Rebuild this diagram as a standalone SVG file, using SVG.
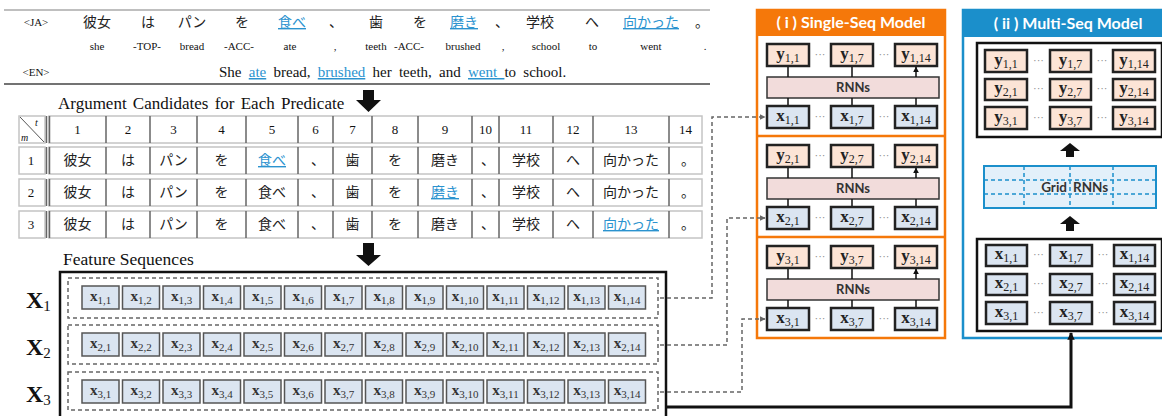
<svg xmlns="http://www.w3.org/2000/svg" width="1162" height="416" viewBox="0 0 1162 416">
<style>
.ser{font-family:"Liberation Serif",serif;fill:#111}
.cjk{font-family:"Noto Sans CJK JP",sans-serif;fill:#222}
.sans{font-family:Lato,"Open Sans",sans-serif;font-weight:bold}
.blue{fill:#2b93cf;text-decoration:underline}
.hl{stroke:#c4c4c4;stroke-width:1.5;fill:#fff}
.vl{stroke:#666;stroke-width:1.5}
.xc{fill:#dbe5f1;stroke:#555;stroke-width:1.5}
.xm{fill:#dbe5f1;stroke:#222;stroke-width:2.5}
.ym{fill:#fce4d6;stroke:#222;stroke-width:2.5}
.ct{font-family:"Liberation Serif",serif;fill:#333;text-anchor:middle;font-size:15px;font-weight:bold}
.ct tspan{font-size:11px;font-weight:normal}
.mt{font-family:"Liberation Serif",serif;fill:#222;text-anchor:middle;font-size:17px;font-weight:bold}
.mt tspan{font-size:12px;font-weight:normal}
.dots{font-family:"Liberation Serif",serif;fill:#888;font-size:11px;text-anchor:middle}
.dash{fill:none;stroke:#666;stroke-width:1.5;stroke-dasharray:4 3}
.dbox{fill:none;stroke:#666;stroke-width:1.5;stroke-dasharray:4 3}
.c{text-anchor:middle}
</style>
<defs>
<marker id="ag" viewBox="0 0 10 10" refX="9" refY="5" markerWidth="4" markerHeight="4" orient="auto"><path d="M0,0L10,5L0,10z" fill="#666"/></marker>
<marker id="ak" viewBox="0 0 10 10" refX="9" refY="5" markerWidth="4" markerHeight="4" orient="auto"><path d="M0,0L10,5L0,10z" fill="#111"/></marker>
<marker id="ab" viewBox="0 0 10 10" refX="9" refY="5" markerWidth="2.5" markerHeight="2.5" orient="auto"><path d="M0,0L10,5L0,10z" fill="#111"/></marker>
</defs>

<g id="sentence">
<line x1="4" y1="10" x2="710" y2="10" stroke="#aaa" stroke-width="1.5"/>
<line x1="4" y1="84" x2="710" y2="84" stroke="#444" stroke-width="1.5"/>
<text class="ser c" x="36" y="26" font-size="11">&lt;JA&gt;</text>
<g class="cjk c" font-size="14">
<text class="cjk c" x="97" y="27">彼女</text>
<text class="cjk c" x="148" y="27">は</text>
<text class="cjk c" x="192" y="27">パン</text>
<text class="cjk c" x="242" y="27">を</text>
<text class="cjk c blue" x="292" y="27">食べ</text>
<text class="cjk c" x="336" y="27">、</text>
<text class="cjk c" x="376" y="27">歯</text>
<text class="cjk c" x="420" y="27">を</text>
<text class="cjk c blue" x="464" y="27">磨き</text>
<text class="cjk c" x="502" y="27">、</text>
<text class="cjk c" x="540" y="27">学校</text>
<text class="cjk c" x="592" y="27">へ</text>
<text class="cjk c blue" x="651" y="27">向かった</text>
<text class="cjk c" x="702" y="27">。</text>
</g>
<g class="ser" font-size="11">
<text class="ser c" x="97" y="50">she</text>
<text class="ser c" x="147" y="50">-TOP-</text>
<text class="ser c" x="192" y="50">bread</text>
<text class="ser c" x="239" y="50">-ACC-</text>
<text class="ser c" x="290" y="50">ate</text>
<text class="ser c" x="335" y="50">,</text>
<text class="ser c" x="376" y="50">teeth</text>
<text class="ser c" x="409" y="50">-ACC-</text>
<text class="ser c" x="463" y="50">brushed</text>
<text class="ser c" x="503" y="50">,</text>
<text class="ser c" x="546" y="50">school</text>
<text class="ser c" x="593" y="50">to</text>
<text class="ser c" x="651" y="50">went</text>
<text class="ser c" x="705" y="50">.</text>
</g>
<text class="ser c" x="36" y="76" font-size="11">&lt;EN&gt;</text>
<text class="ser" x="219" y="77" font-size="15" word-spacing="3.5">She <tspan class="blue">ate</tspan> bread, <tspan class="blue">brushed</tspan> her teeth, and <tspan class="blue">went </tspan>to school.</text>
</g>

<g id="arg-title">
<text class="ser" x="58" y="109" font-size="17" word-spacing="2">Argument Candidates for Each Predicate</text>
<polygon points="363,90 374,90 374,100 381,100 368.5,112 356,100 363,100" fill="#111"/>
</g>

<g id="table">
<rect class="hl" x="19" y="116" width="26" height="27"/>
<line x1="20" y1="117" x2="44" y2="142" stroke="#555" stroke-width="1"/>
<text class="ser" x="35" y="126" font-size="10" font-style="italic">t</text>
<text class="ser" x="21" y="141" font-size="10" font-style="italic">m</text>
<rect class="hl" x="49" y="116" width="653" height="27"/>
<rect class="hl" x="19" y="147" width="26" height="27"/>
<rect class="hl" x="49" y="147" width="653" height="27"/>
<rect class="hl" x="19" y="179" width="26" height="27"/>
<rect class="hl" x="49" y="179" width="653" height="27"/>
<rect class="hl" x="19" y="211" width="26" height="27"/>
<rect class="hl" x="49" y="211" width="653" height="27"/>
<g class="vl">
<line x1="46.5" y1="116" x2="46.5" y2="143"/><line x1="49.5" y1="116" x2="49.5" y2="143"/>
<line x1="46.5" y1="147" x2="46.5" y2="174"/><line x1="49.5" y1="147" x2="49.5" y2="174"/>
<line x1="46.5" y1="179" x2="46.5" y2="206"/><line x1="49.5" y1="179" x2="49.5" y2="206"/>
<line x1="46.5" y1="211" x2="46.5" y2="238"/><line x1="49.5" y1="211" x2="49.5" y2="238"/>
</g>
<path class="vl" d="M106,116V143M150,116V143M197,116V143M246,116V143M298,116V143M333,116V143M372,116V143M418,116V143M472,116V143M499,116V143M553,116V143M593,116V143M669,116V143
M106,147V174M150,147V174M197,147V174M246,147V174M298,147V174M333,147V174M372,147V174M418,147V174M472,147V174M499,147V174M553,147V174M593,147V174M669,147V174
M106,179V206M150,179V206M197,179V206M246,179V206M298,179V206M333,179V206M372,179V206M418,179V206M472,179V206M499,179V206M553,179V206M593,179V206M669,179V206
M106,211V238M150,211V238M197,211V238M246,211V238M298,211V238M333,211V238M372,211V238M418,211V238M472,211V238M499,211V238M553,211V238M593,211V238M669,211V238" fill="none"/>
<g font-size="13">
<text class="ser c" x="77.5" y="134">1</text><text class="ser c" x="128" y="134">2</text><text class="ser c" x="173.5" y="134">3</text><text class="ser c" x="221.5" y="134">4</text><text class="ser c" x="272" y="134">5</text><text class="ser c" x="315.5" y="134">6</text><text class="ser c" x="352.5" y="134">7</text><text class="ser c" x="395" y="134">8</text><text class="ser c" x="445" y="134">9</text><text class="ser c" x="485.5" y="134">10</text><text class="ser c" x="526" y="134">11</text><text class="ser c" x="573" y="134">12</text><text class="ser c" x="631" y="134">13</text><text class="ser c" x="685.5" y="134">14</text>
<text class="ser c" x="31" y="165">1</text><text class="ser c" x="31" y="197">2</text><text class="ser c" x="31" y="229">3</text>
</g>
<g font-size="14">
<text class="cjk c" x="77.5" y="165">彼女</text><text class="cjk c" x="128" y="165">は</text><text class="cjk c" x="173.5" y="165">パン</text><text class="cjk c" x="221.5" y="165">を</text><text class="cjk c blue" x="272" y="165">食べ</text><text class="cjk c" x="318" y="165">、</text><text class="cjk c" x="352.5" y="165">歯</text><text class="cjk c" x="395" y="165">を</text><text class="cjk c" x="445" y="165">磨き</text><text class="cjk c" x="488" y="165">、</text><text class="cjk c" x="526" y="165">学校</text><text class="cjk c" x="573" y="165">へ</text><text class="cjk c" x="631" y="165">向かった</text><text class="cjk c" x="688" y="165">。</text>
<text class="cjk c" x="77.5" y="197">彼女</text><text class="cjk c" x="128" y="197">は</text><text class="cjk c" x="173.5" y="197">パン</text><text class="cjk c" x="221.5" y="197">を</text><text class="cjk c" x="272" y="197">食べ</text><text class="cjk c" x="318" y="197">、</text><text class="cjk c" x="352.5" y="197">歯</text><text class="cjk c" x="395" y="197">を</text><text class="cjk c blue" x="445" y="197">磨き</text><text class="cjk c" x="488" y="197">、</text><text class="cjk c" x="526" y="197">学校</text><text class="cjk c" x="573" y="197">へ</text><text class="cjk c" x="631" y="197">向かった</text><text class="cjk c" x="688" y="197">。</text>
<text class="cjk c" x="77.5" y="229">彼女</text><text class="cjk c" x="128" y="229">は</text><text class="cjk c" x="173.5" y="229">パン</text><text class="cjk c" x="221.5" y="229">を</text><text class="cjk c" x="272" y="229">食べ</text><text class="cjk c" x="318" y="229">、</text><text class="cjk c" x="352.5" y="229">歯</text><text class="cjk c" x="395" y="229">を</text><text class="cjk c" x="445" y="229">磨き</text><text class="cjk c" x="488" y="229">、</text><text class="cjk c" x="526" y="229">学校</text><text class="cjk c" x="573" y="229">へ</text><text class="cjk c blue" x="631" y="229">向かった</text><text class="cjk c" x="688" y="229">。</text>
</g>
</g>

<g id="feature-sequences">
<text class="ser" x="63" y="265" font-size="17.5">Feature Sequences</text>
<polygon points="363,243 374,243 374,255 381,255 368.5,266 356,255 363,255" fill="#111"/>
<rect x="60" y="272" width="606" height="160" fill="none" stroke="#111" stroke-width="2.5"/>
<text class="ser" x="26" y="308" font-size="24" font-weight="bold">X<tspan font-size="15" font-weight="normal" dy="3">1</tspan></text>
<text class="ser" x="26" y="355" font-size="24" font-weight="bold">X<tspan font-size="15" font-weight="normal" dy="3">2</tspan></text>
<text class="ser" x="26" y="402" font-size="24" font-weight="bold">X<tspan font-size="15" font-weight="normal" dy="3">3</tspan></text>
</g>

<g id="X1">
<rect class="dbox" x="68" y="278" width="590" height="40"/>
<g>
<rect class="xc" x="82" y="286" width="37" height="23"/><rect class="xc" x="122.5" y="286" width="37" height="23"/><rect class="xc" x="163" y="286" width="37" height="23"/><rect class="xc" x="203.5" y="286" width="37" height="23"/><rect class="xc" x="244" y="286" width="37" height="23"/><rect class="xc" x="284.5" y="286" width="37" height="23"/><rect class="xc" x="325" y="286" width="37" height="23"/><rect class="xc" x="365.5" y="286" width="37" height="23"/><rect class="xc" x="406" y="286" width="37" height="23"/><rect class="xc" x="446.5" y="286" width="37" height="23"/><rect class="xc" x="487" y="286" width="37" height="23"/><rect class="xc" x="527.5" y="286" width="37" height="23"/><rect class="xc" x="568" y="286" width="37" height="23"/><rect class="xc" x="608.5" y="286" width="37" height="23"/>
</g>
<text class="ct" x="100.5" y="301">x<tspan dy="3">1,1</tspan></text><text class="ct" x="141" y="301">x<tspan dy="3">1,2</tspan></text><text class="ct" x="181.5" y="301">x<tspan dy="3">1,3</tspan></text><text class="ct" x="222" y="301">x<tspan dy="3">1,4</tspan></text><text class="ct" x="262.5" y="301">x<tspan dy="3">1,5</tspan></text><text class="ct" x="303" y="301">x<tspan dy="3">1,6</tspan></text><text class="ct" x="343.5" y="301">x<tspan dy="3">1,7</tspan></text><text class="ct" x="384" y="301">x<tspan dy="3">1,8</tspan></text><text class="ct" x="424.5" y="301">x<tspan dy="3">1,9</tspan></text><text class="ct" x="465" y="301">x<tspan dy="3">1,10</tspan></text><text class="ct" x="505.5" y="301">x<tspan dy="3">1,11</tspan></text><text class="ct" x="546" y="301">x<tspan dy="3">1,12</tspan></text><text class="ct" x="586.5" y="301">x<tspan dy="3">1,13</tspan></text><text class="ct" x="627" y="301">x<tspan dy="3">1,14</tspan></text>
</g>

<g id="X2">
<rect class="dbox" x="68" y="325" width="590" height="39"/>
<g>
<rect class="xc" x="82" y="333" width="37" height="23"/><rect class="xc" x="122.5" y="333" width="37" height="23"/><rect class="xc" x="163" y="333" width="37" height="23"/><rect class="xc" x="203.5" y="333" width="37" height="23"/><rect class="xc" x="244" y="333" width="37" height="23"/><rect class="xc" x="284.5" y="333" width="37" height="23"/><rect class="xc" x="325" y="333" width="37" height="23"/><rect class="xc" x="365.5" y="333" width="37" height="23"/><rect class="xc" x="406" y="333" width="37" height="23"/><rect class="xc" x="446.5" y="333" width="37" height="23"/><rect class="xc" x="487" y="333" width="37" height="23"/><rect class="xc" x="527.5" y="333" width="37" height="23"/><rect class="xc" x="568" y="333" width="37" height="23"/><rect class="xc" x="608.5" y="333" width="37" height="23"/>
</g>
<text class="ct" x="100.5" y="348">x<tspan dy="3">2,1</tspan></text><text class="ct" x="141" y="348">x<tspan dy="3">2,2</tspan></text><text class="ct" x="181.5" y="348">x<tspan dy="3">2,3</tspan></text><text class="ct" x="222" y="348">x<tspan dy="3">2,4</tspan></text><text class="ct" x="262.5" y="348">x<tspan dy="3">2,5</tspan></text><text class="ct" x="303" y="348">x<tspan dy="3">2,6</tspan></text><text class="ct" x="343.5" y="348">x<tspan dy="3">2,7</tspan></text><text class="ct" x="384" y="348">x<tspan dy="3">2,8</tspan></text><text class="ct" x="424.5" y="348">x<tspan dy="3">2,9</tspan></text><text class="ct" x="465" y="348">x<tspan dy="3">2,10</tspan></text><text class="ct" x="505.5" y="348">x<tspan dy="3">2,11</tspan></text><text class="ct" x="546" y="348">x<tspan dy="3">2,12</tspan></text><text class="ct" x="586.5" y="348">x<tspan dy="3">2,13</tspan></text><text class="ct" x="627" y="348">x<tspan dy="3">2,14</tspan></text>
</g>

<g id="X3">
<rect class="dbox" x="68" y="372" width="590" height="38"/>
<g>
<rect class="xc" x="82" y="380" width="37" height="23"/><rect class="xc" x="122.5" y="380" width="37" height="23"/><rect class="xc" x="163" y="380" width="37" height="23"/><rect class="xc" x="203.5" y="380" width="37" height="23"/><rect class="xc" x="244" y="380" width="37" height="23"/><rect class="xc" x="284.5" y="380" width="37" height="23"/><rect class="xc" x="325" y="380" width="37" height="23"/><rect class="xc" x="365.5" y="380" width="37" height="23"/><rect class="xc" x="406" y="380" width="37" height="23"/><rect class="xc" x="446.5" y="380" width="37" height="23"/><rect class="xc" x="487" y="380" width="37" height="23"/><rect class="xc" x="527.5" y="380" width="37" height="23"/><rect class="xc" x="568" y="380" width="37" height="23"/><rect class="xc" x="608.5" y="380" width="37" height="23"/>
</g>
<text class="ct" x="100.5" y="395">x<tspan dy="3">3,1</tspan></text><text class="ct" x="141" y="395">x<tspan dy="3">3,2</tspan></text><text class="ct" x="181.5" y="395">x<tspan dy="3">3,3</tspan></text><text class="ct" x="222" y="395">x<tspan dy="3">3,4</tspan></text><text class="ct" x="262.5" y="395">x<tspan dy="3">3,5</tspan></text><text class="ct" x="303" y="395">x<tspan dy="3">3,6</tspan></text><text class="ct" x="343.5" y="395">x<tspan dy="3">3,7</tspan></text><text class="ct" x="384" y="395">x<tspan dy="3">3,8</tspan></text><text class="ct" x="424.5" y="395">x<tspan dy="3">3,9</tspan></text><text class="ct" x="465" y="395">x<tspan dy="3">3,10</tspan></text><text class="ct" x="505.5" y="395">x<tspan dy="3">3,11</tspan></text><text class="ct" x="546" y="395">x<tspan dy="3">3,12</tspan></text><text class="ct" x="586.5" y="395">x<tspan dy="3">3,13</tspan></text><text class="ct" x="627" y="395">x<tspan dy="3">3,14</tspan></text>
</g>

<g id="single-seq-model">
<rect x="757" y="10" width="188" height="328" fill="#fff" stroke="#f5780a" stroke-width="2.5"/>
<rect x="757" y="10" width="188" height="26" fill="#f5780a"/>
<text class="sans c" x="851" y="28" font-size="16" fill="#fff">( i ) Single-Seq Model</text>
<line x1="757" y1="136" x2="945" y2="136" stroke="#f5780a" stroke-width="2.5"/>
<line x1="757" y1="237" x2="945" y2="237" stroke="#f5780a" stroke-width="2.5"/>
<g id="ss1">
<rect class="ym" x="767" y="44" width="42" height="22"/><rect class="ym" x="831" y="44" width="42" height="22"/><rect class="ym" x="895" y="44" width="42" height="22"/>
<text class="mt" x="788" y="59">y<tspan dy="3">1,1</tspan></text><text class="mt" x="852" y="59">y<tspan dy="3">1,7</tspan></text><text class="mt" x="916" y="59">y<tspan dy="3">1,14</tspan></text>
<text class="dots" x="820" y="58">···</text><text class="dots" x="884" y="58">···</text>
<rect x="767" y="77" width="172" height="21" fill="#f2dcdb" stroke="#333" stroke-width="1.5"/>
<text class="sans c" x="853" y="92" font-size="13" fill="#333">RNNs</text>
<path d="M788,106V98M852,106V98M916,106V98" stroke="#111" stroke-width="1.5"/>
<path d="M788,77V67M852,77V67M916,77V67" stroke="#111" stroke-width="1.5" marker-end="url(#ak)"/>
<rect class="xm" x="767" y="106" width="42" height="22"/><rect class="xm" x="831" y="106" width="42" height="22" stroke-width="3"/><rect class="xm" x="895" y="106" width="42" height="22"/>
<text class="mt" x="788" y="121">x<tspan dy="3">1,1</tspan></text><text class="mt" x="852" y="121">x<tspan dy="3">1,7</tspan></text><text class="mt" x="916" y="121">x<tspan dy="3">1,14</tspan></text>
<text class="dots" x="820" y="120">···</text><text class="dots" x="884" y="120">···</text>
</g>
<g id="ss2">
<rect class="ym" x="767" y="145" width="42" height="22"/><rect class="ym" x="831" y="145" width="42" height="22"/><rect class="ym" x="895" y="145" width="42" height="22"/>
<text class="mt" x="788" y="160">y<tspan dy="3">2,1</tspan></text><text class="mt" x="852" y="160">y<tspan dy="3">2,7</tspan></text><text class="mt" x="916" y="160">y<tspan dy="3">2,14</tspan></text>
<text class="dots" x="820" y="159">···</text><text class="dots" x="884" y="159">···</text>
<rect x="767" y="178" width="172" height="21" fill="#f2dcdb" stroke="#333" stroke-width="1.5"/>
<text class="sans c" x="853" y="193" font-size="13" fill="#333">RNNs</text>
<path d="M788,207V199M852,207V199M916,207V199" stroke="#111" stroke-width="1.5"/>
<path d="M788,178V168M852,178V168M916,178V168" stroke="#111" stroke-width="1.5" marker-end="url(#ak)"/>
<rect class="xm" x="767" y="207" width="42" height="22"/><rect class="xm" x="831" y="207" width="42" height="22"/><rect class="xm" x="895" y="207" width="42" height="22"/>
<text class="mt" x="788" y="222">x<tspan dy="3">2,1</tspan></text><text class="mt" x="852" y="222">x<tspan dy="3">2,7</tspan></text><text class="mt" x="916" y="222">x<tspan dy="3">2,14</tspan></text>
<text class="dots" x="820" y="221">···</text><text class="dots" x="884" y="221">···</text>
</g>
<g id="ss3">
<rect class="ym" x="767" y="246" width="42" height="22"/><rect class="ym" x="831" y="246" width="42" height="22"/><rect class="ym" x="895" y="246" width="42" height="22"/>
<text class="mt" x="788" y="261">y<tspan dy="3">3,1</tspan></text><text class="mt" x="852" y="261">y<tspan dy="3">3,7</tspan></text><text class="mt" x="916" y="261">y<tspan dy="3">3,14</tspan></text>
<text class="dots" x="820" y="260">···</text><text class="dots" x="884" y="260">···</text>
<rect x="767" y="279" width="172" height="21" fill="#f2dcdb" stroke="#333" stroke-width="1.5"/>
<text class="sans c" x="853" y="294" font-size="13" fill="#333">RNNs</text>
<path d="M788,308V300M852,308V300M916,308V300" stroke="#111" stroke-width="1.5"/>
<path d="M788,279V269M852,279V269M916,279V269" stroke="#111" stroke-width="1.5" marker-end="url(#ak)"/>
<rect class="xm" x="767" y="308" width="42" height="22"/><rect class="xm" x="831" y="308" width="42" height="22"/><rect class="xm" x="895" y="308" width="42" height="22"/>
<text class="mt" x="788" y="323">x<tspan dy="3">3,1</tspan></text><text class="mt" x="852" y="323">x<tspan dy="3">3,7</tspan></text><text class="mt" x="916" y="323">x<tspan dy="3">3,14</tspan></text>
<text class="dots" x="820" y="322">···</text><text class="dots" x="884" y="322">···</text>
</g>
</g>

<g id="multi-seq-model">
<rect x="963" y="10" width="214" height="328" fill="#fff" stroke="#1b8fcb" stroke-width="2.5"/>
<rect x="963" y="10" width="214" height="27" fill="#1b8fcb"/>
<text class="sans c" x="1068" y="29" font-size="16" fill="#fff">( ii ) Multi-Seq Model</text>
<g id="ms-output">
<rect x="977" y="43" width="185" height="94" fill="none" stroke="#111" stroke-width="2.5"/>
<rect class="ym" x="985" y="50" width="42" height="22"/><rect class="ym" x="1050" y="50" width="41" height="22"/><rect class="ym" x="1113" y="50" width="42" height="22"/>
<rect class="ym" x="985" y="79" width="42" height="21"/><rect class="ym" x="1050" y="79" width="41" height="21"/><rect class="ym" x="1113" y="79" width="42" height="21"/>
<rect class="ym" x="985" y="107" width="42" height="22"/><rect class="ym" x="1050" y="107" width="41" height="22"/><rect class="ym" x="1113" y="107" width="42" height="22"/>
<text class="mt" x="1006" y="65">y<tspan dy="3">1,1</tspan></text><text class="mt" x="1070.5" y="65">y<tspan dy="3">1,7</tspan></text><text class="mt" x="1134" y="65">y<tspan dy="3">1,14</tspan></text>
<text class="mt" x="1006" y="93">y<tspan dy="3">2,1</tspan></text><text class="mt" x="1070.5" y="93">y<tspan dy="3">2,7</tspan></text><text class="mt" x="1134" y="93">y<tspan dy="3">2,14</tspan></text>
<text class="mt" x="1006" y="122">y<tspan dy="3">3,1</tspan></text><text class="mt" x="1070.5" y="122">y<tspan dy="3">3,7</tspan></text><text class="mt" x="1134" y="122">y<tspan dy="3">3,14</tspan></text>
<text class="dots" x="1038.5" y="64">···</text><text class="dots" x="1102" y="64">···</text>
<text class="dots" x="1038.5" y="92">···</text><text class="dots" x="1102" y="92">···</text>
<text class="dots" x="1038.5" y="121">···</text><text class="dots" x="1102" y="121">···</text>
</g>
<polygon points="1070,143 1080,151 1074,151 1074,157 1066,157 1066,151 1060,151" fill="#111"/>
<g id="grid-rnns">
<rect x="984" y="166" width="172" height="42" fill="#e3f0fa" stroke="#1b8fcb" stroke-width="2"/>
<path d="M984,180H1156M984,194H1156M1024,166V208M1070,166V208M1113,166V208" stroke="#1b8fcb" stroke-width="1.5" stroke-dasharray="4 3" fill="none"/>
<text class="sans" x="1067" y="192" font-size="13.5" fill="#333" text-anchor="end">Grid</text>
<text class="sans" x="1073" y="192" font-size="13.5" fill="#333">RNNs</text>
</g>
<polygon points="1070,216 1080,224 1074,224 1074,231 1066,231 1066,224 1060,224" fill="#111"/>
<g id="ms-input">
<rect x="977" y="239" width="185" height="92" fill="none" stroke="#111" stroke-width="2.5"/>
<rect class="xm" x="986" y="245" width="41" height="21"/><rect class="xm" x="1050" y="245" width="42" height="21"/><rect class="xm" x="1114" y="245" width="41" height="21"/>
<rect class="xm" x="986" y="274" width="41" height="21"/><rect class="xm" x="1050" y="274" width="42" height="21"/><rect class="xm" x="1114" y="274" width="41" height="21"/>
<rect class="xm" x="986" y="302" width="41" height="22"/><rect class="xm" x="1050" y="302" width="42" height="22"/><rect class="xm" x="1114" y="302" width="41" height="22"/>
<text class="mt" x="1006.5" y="259">x<tspan dy="3">1,1</tspan></text><text class="mt" x="1071" y="259">x<tspan dy="3">1,7</tspan></text><text class="mt" x="1134.5" y="259">x<tspan dy="3">1,14</tspan></text>
<text class="mt" x="1006.5" y="288">x<tspan dy="3">2,1</tspan></text><text class="mt" x="1071" y="288">x<tspan dy="3">2,7</tspan></text><text class="mt" x="1134.5" y="288">x<tspan dy="3">2,14</tspan></text>
<text class="mt" x="1006.5" y="317">x<tspan dy="3">3,1</tspan></text><text class="mt" x="1071" y="317">x<tspan dy="3">3,7</tspan></text><text class="mt" x="1134.5" y="317">x<tspan dy="3">3,14</tspan></text>
<text class="dots" x="1038.5" y="258">···</text><text class="dots" x="1103" y="258">···</text>
<text class="dots" x="1038.5" y="287">···</text><text class="dots" x="1103" y="287">···</text>
<text class="dots" x="1038.5" y="316">···</text><text class="dots" x="1103" y="316">···</text>
</g>
</g>

<g id="connectors">
<path class="dash" d="M660,298H712V117H765" marker-end="url(#ag)"/>
<path class="dash" d="M660,345H727V218H765" marker-end="url(#ag)"/>
<path class="dash" d="M660,392H742V319H765" marker-end="url(#ag)"/>
<path d="M666,407H1071V333" fill="none" stroke="#111" stroke-width="3" marker-end="url(#ab)"/>
</g>
</svg>
